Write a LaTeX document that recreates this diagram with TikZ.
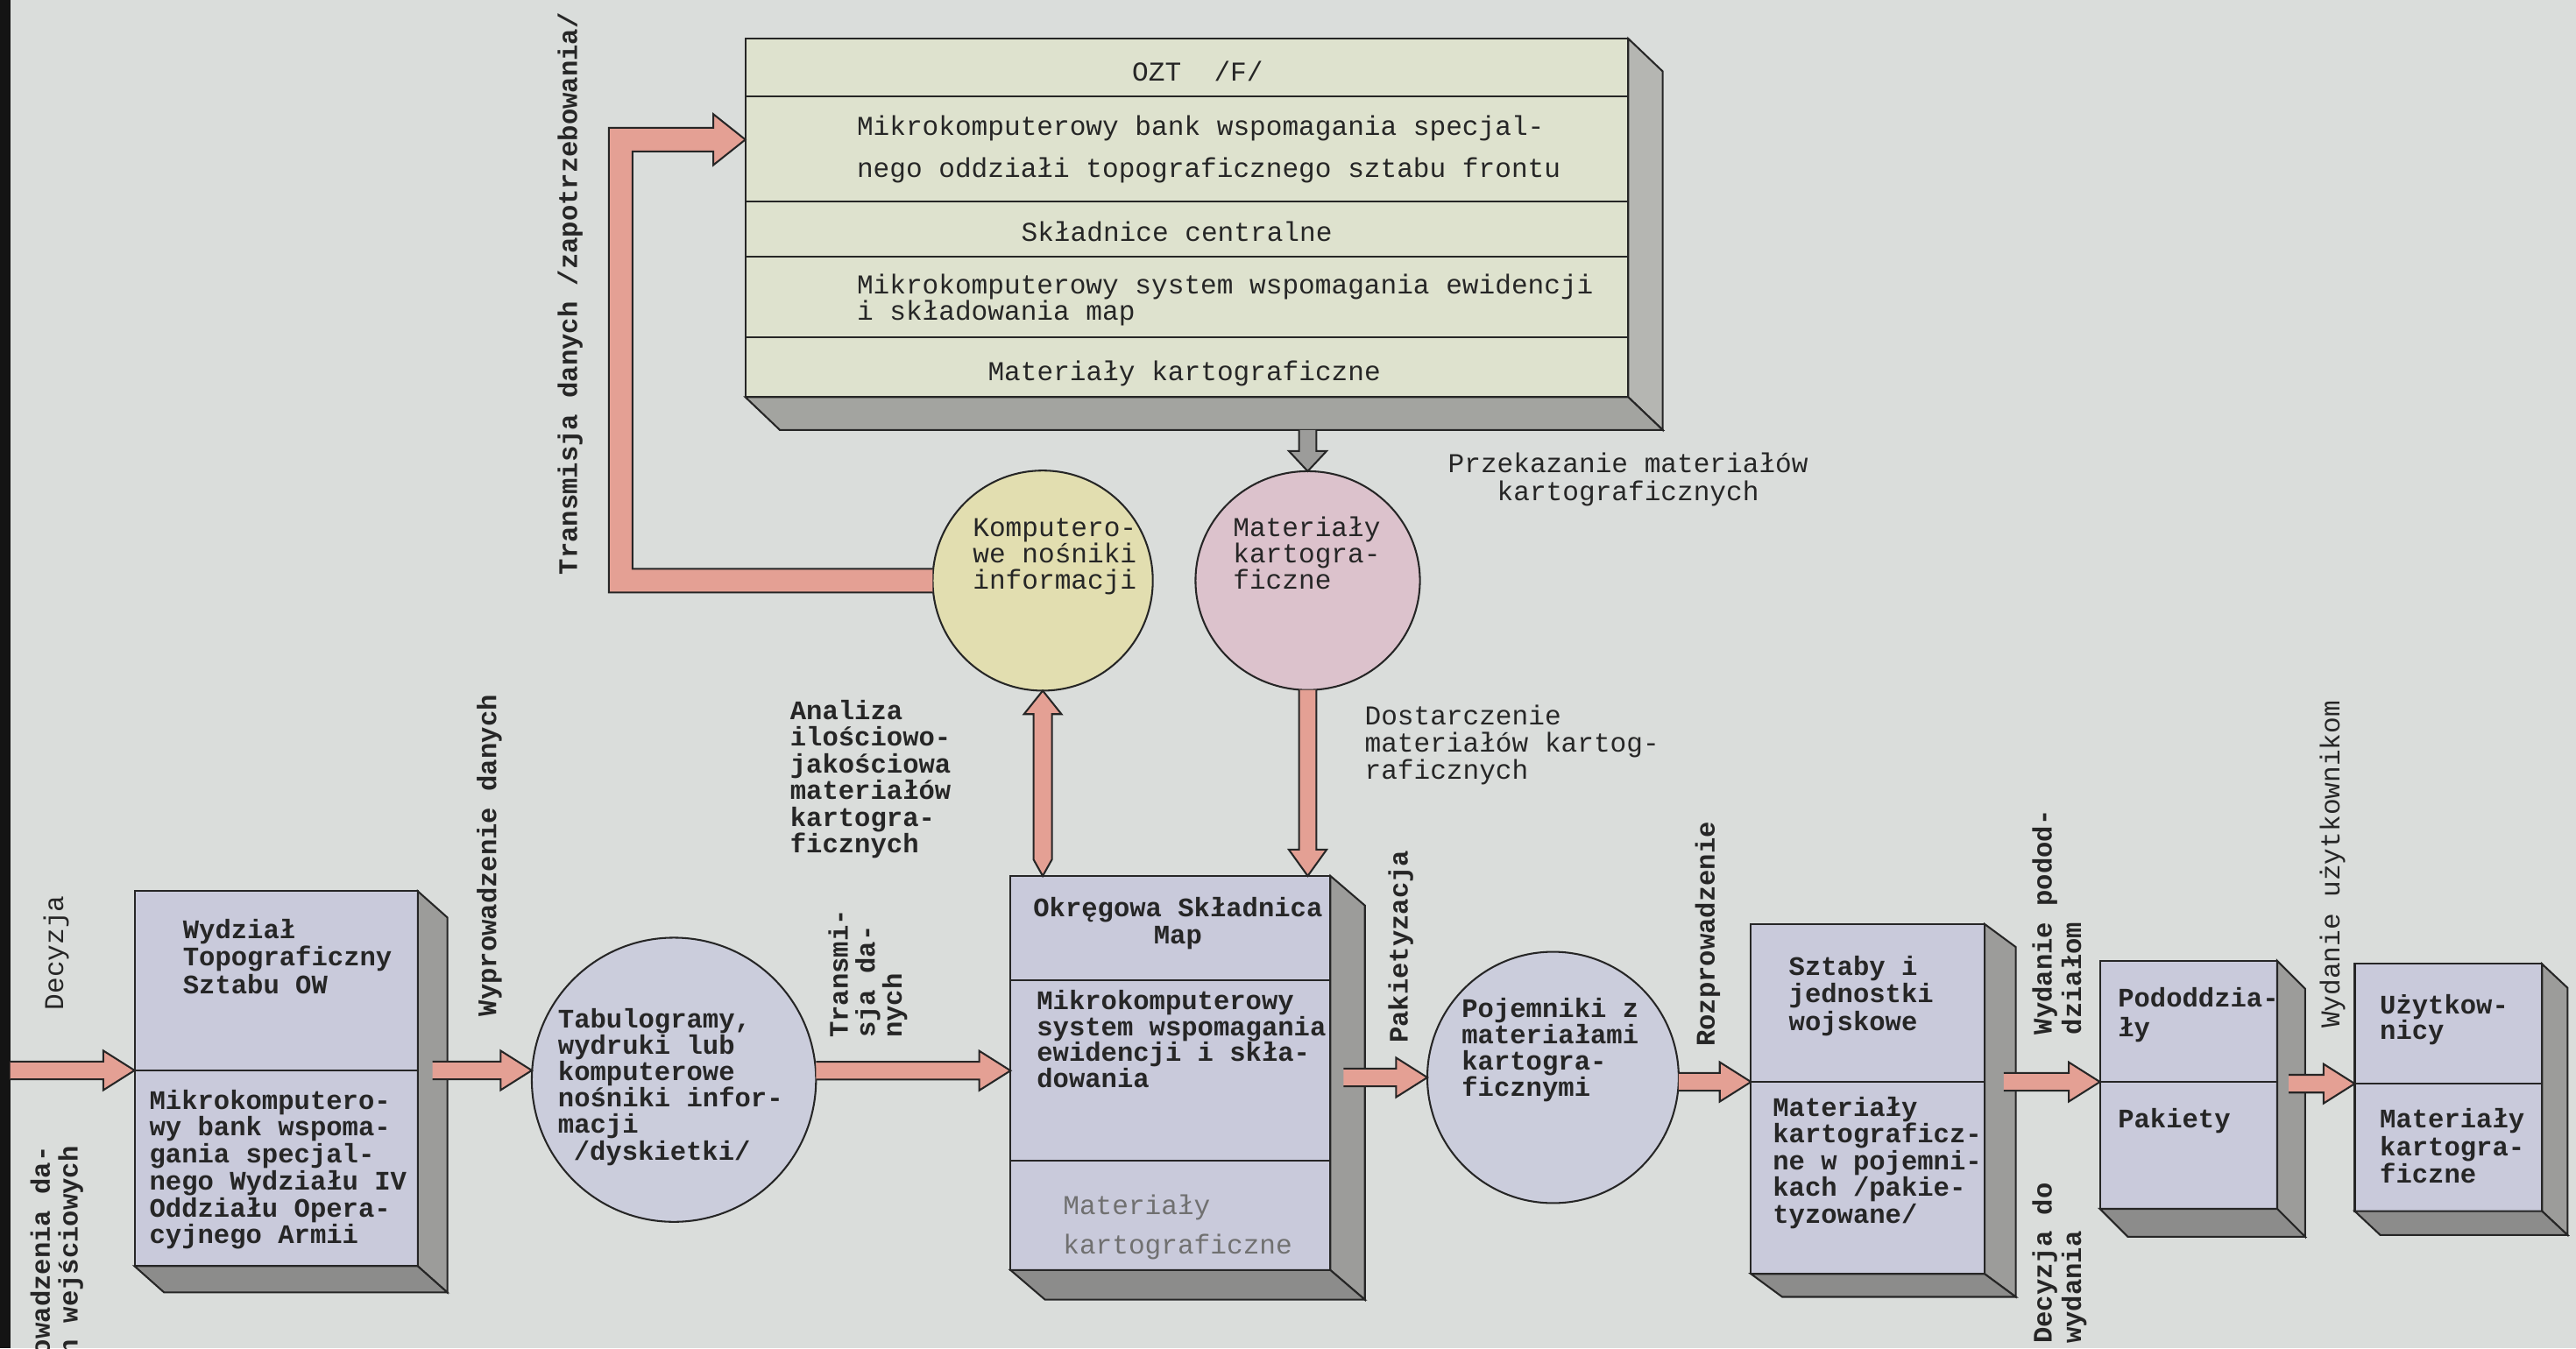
\documentclass[tikz,border=0pt]{standalone}
\usepackage{fontspec}
\newfontfamily\tw{Liberation Mono}
\usetikzlibrary{calc,shapes.geometric}

\definecolor{paper}{HTML}{DADDDB}
\definecolor{ink}{HTML}{262626}
\definecolor{lav}{HTML}{C9CADB}
\definecolor{sage}{HTML}{DEE2CE}
\definecolor{faceA}{HTML}{9C9C9A}
\definecolor{faceC}{HTML}{B5B6B2}
\definecolor{salmon}{HTML}{E4A094}
\definecolor{straw}{HTML}{E2DEB0}
\definecolor{rose}{HTML}{DCC2CC}
\definecolor{mist}{HTML}{CBCDDC}
\definecolor{pencil}{HTML}{707070}

% multi-line nodes sit on the baseline of their last line
\tikzset{
  every node/.style={inner sep=0pt, outer sep=0pt},
  sect/.style={draw=ink, line width=1.1pt, anchor=north west},
  face/.style={draw=ink, line width=1.1pt, line join=miter},
  ring/.style={draw=ink, line width=1.1pt},
  blockarrow/.style={draw=ink, fill=salmon, line width=1.1pt, line join=miter},
  txt/.style={text=ink, align=left, anchor=base west},
  tw/.style={font=\tw\fontsize{16.6}{#1}\selectfont},
  twb/.style={font=\tw\bfseries\fontsize{16.3}{#1}\selectfont},
  tw/.default=16.3, twb/.default=16.3,
  vert/.style={txt, rotate=90},
}

% right face and bottom face of a slab
\newcommand\slabfaces[5]{%
  \filldraw[face, fill=#5] (#1.north east) -- ++(#3,#4) -- ($(#2.south east)+(#3,#4)$) -- (#2.south east) -- cycle;
  \filldraw[face, fill=#5!90!black] (#2.south west) -- ++(#3,#4) -- ($(#2.south east)+(#3,#4)$) -- (#2.south east) -- cycle;
}

% block arrows: shaft half width, head half width, head length
\def\shw{5.4pt}\def\hdw{12pt}\def\hdl{19pt}
\newcommand\blockright[3][]{%
  \filldraw[blockarrow,#1] let \p1=(#2), \p2=(#3) in
    (\x1,\y2+\shw) -- (\x2-\hdl,\y2+\shw) -- (\x2-\hdl,\y2+\hdw) -- (\x2,\y2)
    -- (\x2-\hdl,\y2-\hdw) -- (\x2-\hdl,\y2-\shw) -- (\x1,\y2-\shw);
}
\newcommand\blockdown[3][]{%
  \filldraw[blockarrow,#1] let \p1=(#2), \p2=(#3) in
    (\x2-\shw,\y1) -- (\x2-\shw,\y2+\hdl) -- (\x2-\hdw,\y2+\hdl) -- (\x2,\y2)
    -- (\x2+\hdw,\y2+\hdl) -- (\x2+\shw,\y2+\hdl) -- (\x2+\shw,\y1);
}
\newcommand\blockuppoint[3][]{%
  \filldraw[blockarrow,#1] let \p1=(#2), \p2=(#3) in
    (\x2,\y1) -- (\x2-\shw,\y1+10pt) -- (\x2-\shw,\y2-\hdl) -- (\x2-\hdw,\y2-\hdl) -- (\x2,\y2)
    -- (\x2+\hdw,\y2-\hdl) -- (\x2+\shw,\y2-\hdl) -- (\x2+\shw,\y1+10pt) -- cycle;
}
\newcommand\blockell[4][]{%
  \filldraw[blockarrow,#1] let \p1=(#2), \p2=(#3), \p3=(#4) in
    (\x1,\y1-\shw) -- (\x2-\shw,\y1-\shw) -- (\x2-\shw,\y3+\shw) -- (\x3-\hdl,\y3+\shw)
    -- (\x3-\hdl,\y3+\hdw) -- (\x3,\y3) -- (\x3-\hdl,\y3-\hdw) -- (\x3-\hdl,\y3-\shw)
    -- (\x2+\shw,\y3-\shw) -- (\x2+\shw,\y1+\shw) -- (\x1,\y1+\shw);
}

\begin{document}
\begin{tikzpicture}[x=1pt,y=-1pt]
\useasboundingbox (0,0) rectangle (1568,821);
\fill[paper] (0,0) rectangle (1568,821);
\clip (0,0) rectangle (1568,821);
\fill[black!92] (0,0) rectangle (6.2,821);

% ---- OZT /F/ slab
\node[sect, fill=sage, minimum width=537.4, minimum height=35.2] (ozt1) at (453.7,23.5) {};
\node[sect, fill=sage, minimum width=537.4, minimum height=64]   (ozt2) at (ozt1.south west) {};
\node[sect, fill=sage, minimum width=537.4, minimum height=33.7] (ozt3) at (ozt2.south west) {};
\node[sect, fill=sage, minimum width=537.4, minimum height=48.9] (ozt4) at (ozt3.south west) {};
\node[sect, fill=sage, minimum width=537.4, minimum height=36.5] (ozt5) at (ozt4.south west) {};
\slabfaces{ozt1}{ozt5}{21}{20}{faceC}

% ---- Wydział Topograficzny
\node[sect, fill=lav, minimum width=172.4, minimum height=109.1] (wydtop) at (81.9,542.6) {};
\node[sect, fill=lav, minimum width=172.4, minimum height=119.2] (wydbot) at (wydtop.south west) {};
\slabfaces{wydtop}{wydbot}{18}{16}{faceA}

% ---- Okręgowa Składnica Map
\node[sect, fill=lav, minimum width=194.7, minimum height=63.7]  (okrtop) at (615.1,533.3) {};
\node[sect, fill=lav, minimum width=194.7, minimum height=109.7] (okrmid) at (okrtop.south west) {};
\node[sect, fill=lav, minimum width=194.7, minimum height=66.6]  (okrbot) at (okrmid.south west) {};
\slabfaces{okrtop}{okrbot}{21}{18}{faceA}

% ---- Sztaby i jednostki
\node[sect, fill=lav, minimum width=142.2, minimum height=96.1]  (sztop) at (1065.8,562.6) {};
\node[sect, fill=lav, minimum width=142.2, minimum height=116.9] (szbot) at (sztop.south west) {};
\slabfaces{sztop}{szbot}{19}{14}{faceA}

% ---- Pododdziały
\node[sect, fill=lav, minimum width=107.9, minimum height=73.7] (podtop) at (1278.2,585) {};
\node[sect, fill=lav, minimum width=107.9, minimum height=77.3] (podbot) at (podtop.south west) {};
\slabfaces{podtop}{podbot}{17}{17}{faceA}

% ---- Użytkownicy
\node[sect, fill=lav, minimum width=114, minimum height=72.9] (uzytop) at (1433.3,586.9) {};
\node[sect, fill=lav, minimum width=114, minimum height=77.6] (uzybot) at (uzytop.south west) {};
\slabfaces{uzytop}{uzybot}{15.5}{14.5}{faceA}

% ---- round nodes
\node[circle, ring, fill=mist, minimum size=173] (tab) at (410.2,657.4) {};
\node[circle, ring, fill=straw, minimum size=134] (kom) at (634.7,353.5) {};
\node[ellipse, ring, fill=rose, minimum width=136.6, minimum height=133.2] (mat) at (796,353.5) {};
\node[circle, ring, fill=mist, minimum size=153] (poj) at (945.3,656) {};

% ---- connectors
\coordinate (in-dec) at (6.2,651.7);
\coordinate (out-wyd) at ($(wydtop.south east)+(9,0)$);
\coordinate (out-okr) at ($(okrmid.east |- poj.west)+(8,0)$);
\coordinate (out-szt) at ($(sztop.south east)+(11.6,0)$);
\coordinate (out-pod) at ($(podtop.south east)+(7,0)$);
\coordinate (ozt-foot) at ($(ozt5.south)+(0,20)$);
\coordinate (lbend) at (377.8,85);

\blockright{in-dec}{wydtop.south west}
\blockright{out-wyd}{tab.west |- out-wyd}
\blockright{tab.east |- okrmid.west}{okrmid.west}
\blockright{out-okr}{poj.west}
\blockright{poj.east |- sztop.south west}{sztop.south west}
\blockright{out-szt}{podtop.south west}
\blockright{out-pod}{uzytop.south west}
{\def\shw{5.6pt}\def\hdw{11.4pt}\def\hdl{14.3pt}
 \blockuppoint{kom.south |- okrtop.north}{kom.south}}
{\def\shw{5.3pt}\def\hdw{11.5pt}\def\hdl{16pt}
 \blockdown{mat.south}{mat.south |- okrtop.north}}
{\def\shw{5.3pt}\def\hdw{11.5pt}\def\hdl{12.3pt}
 \blockdown[fill=faceA]{mat.north |- ozt-foot}{mat.north}}
{\def\shw{7.2pt}\def\hdw{15.5pt}\def\hdl{19.5pt}
 \blockell{kom.west}{lbend}{ozt2.west |- lbend}}

% ---- texts of the OZT slab
\node[txt, tw, anchor=base] (ozt-t1) at (729,49.5) {OZT~~/F/};
\node[txt, tw=25.8] (ozt-t2) at (521.6,108.1) {Mikrokomputerowy bank wspomagania specjal-\\nego oddziałi topograficznego sztabu frontu};
\node[txt, tw, anchor=base] (ozt-t3) at (716.3,147.2) {Składnice centralne};
\node[txt, tw=16] (ozt-t4) at (521.6,195.2) {Mikrokomputerowy system wspomagania ewidencji\\i składowania map};
\node[txt, tw, anchor=base] (ozt-t5) at (720.9,231.7) {Materiały kartograficzne};

% ---- circle texts
\node[txt, tw=16] (kom-t) at (592.2,358.8) {Komputero-\\we nośniki\\informacji};
\node[txt, tw=16] (mat-t) at (750.6,358.8) {Materiały\\kartogra-\\ficzne};
\node[txt, twb=16.1] (tab-t) at (339.7,706.2) {Tabulogramy,\\wydruki lub\\komputerowe\\nośniki infor-\\macji\\\hspace*{9.5pt}/dyskietki/};
\node[txt, twb=16] (poj-t) at (889.8,667.7) {Pojemniki z\\materiałami\\kartogra-\\ficznymi};

% ---- box texts
\node[txt, twb=16.8] (wyd-t1) at (111.4,605) {Wydział\\Topograficzny\\Sztabu OW};
\node[txt, twb=16.4] (wyd-t2) at (91,757.3) {Mikrokomputero-\\wy bank wspoma-\\gania specjal-\\nego Wydziału IV\\Oddziału Opera-\\cyjnego Armii};
\node[txt, twb=16.9, align=center, anchor=base] (okr-t1) at (717,574.8) {Okręgowa Składnica\\Map};
\node[txt, twb=15.7] (okr-t2) at (631.1,661.9) {Mikrokomputerowy\\system wspomagania\\ewidencji i skła-\\dowania};
\node[txt, tw=24, text=pencil] (okr-t3) at (647.1,763.2) {Materiały\\kartograficzne};
\node[txt, twb=16.9] (szt-t1) at (1088.9,627.4) {Sztaby i\\jednostki\\wojskowe};
\node[txt, twb=16.3] (szt-t2) at (1079.1,744.7) {Materiały\\kartograficz-\\ne w pojemni-\\kach /pakie-\\tyzowane/};
\node[txt, twb=18] (pod-t1) at (1289.2,631.3) {Pododdzia-\\ły};
\node[txt, twb] (pod-t2) at (1289.2,686.9) {Pakiety};
\node[txt, twb=15.5] (uzy-t1) at (1448.6,632.7) {Użytkow-\\nicy};
\node[txt, twb=16.8] (uzy-t2) at (1448.6,720.5) {Materiały\\kartogra-\\ficzne};

% ---- connector labels
\node[txt, tw=16.9, align=center, anchor=base] (lbl-prz) at (991,304.6) {Przekazanie materiałów\\kartograficznych};
\node[txt, tw=16.5] (lbl-dost) at (830.7,474.4) {Dostarczenie\\materiałów kartog-\\raficznych};
\node[txt, twb=16.3] (lbl-anal) at (481,519.4) {Analiza\\ilościowo-\\jakościowa\\materiałów\\kartogra-\\ficznych};
\node[vert, twb] (lbl-zap) at (351.2,350) {Transmisja danych /zapotrzebowania/};
\node[vert, twb] (lbl-wypr) at (302,618.7) {Wyprowadzenie danych};
\node[vert, tw] (lbl-dec) at (38.5,615) {Decyzja};
\node[vert, twb=16.9] (lbl-wpr) at (47.2,854.4) {Wprowadzenia da-\\nych wejściowych};
\node[vert, twb=16.4] (lbl-tr) at (548.8,631.9) {Transmi-\\sja da-\\nych};
\node[vert, twb] (lbl-pak) at (856.9,635.1) {Pakietyzacja};
\node[vert, twb] (lbl-roz) at (1043.6,637.2) {Rozprowadzenie};
\node[vert, twb=17.8] (lbl-wpod) at (1266.7,630) {Wydanie podod-\\działom};
\node[vert, twb=17.8] (lbl-dec2) at (1266.7,818) {Decyzja do\\wydania};
\node[vert, tw] (lbl-wuz) at (1424.1,626) {Wydanie użytkownikom};
\end{tikzpicture}
\end{document}
